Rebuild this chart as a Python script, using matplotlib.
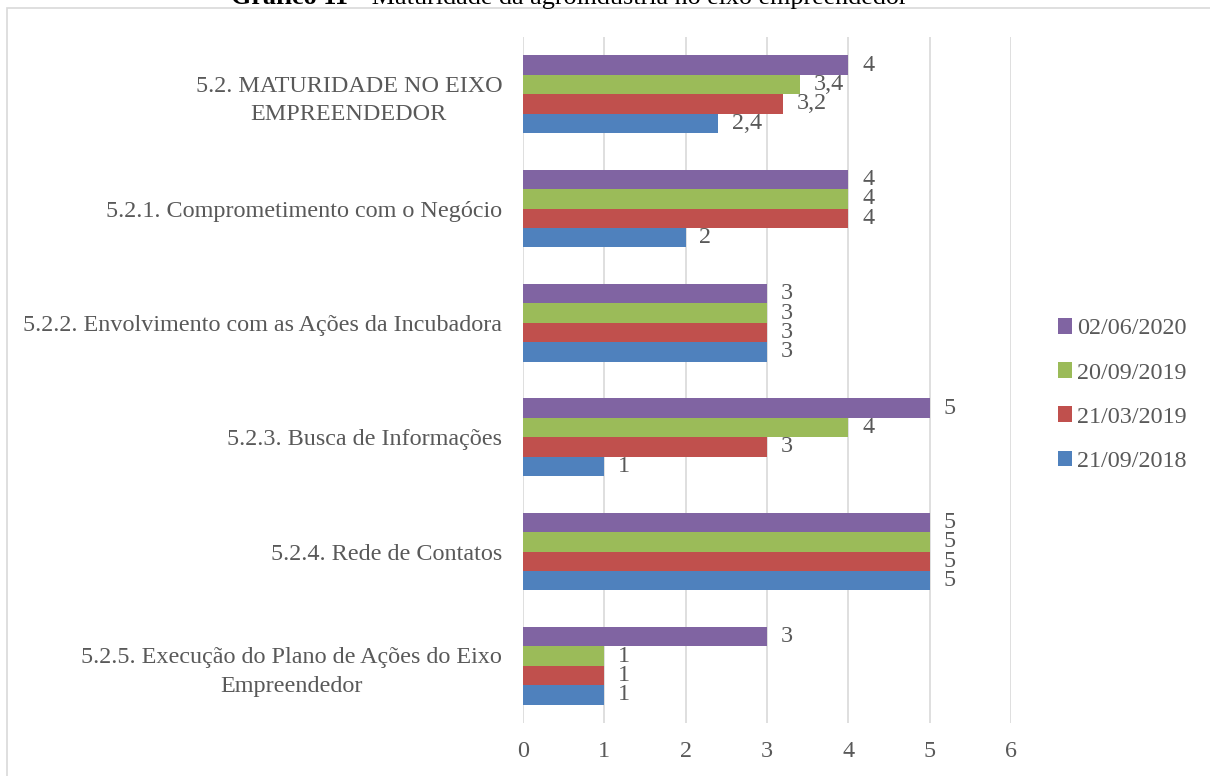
import numpy as np
import matplotlib.pyplot as plt
from matplotlib.patches import Rectangle

plt.rcParams['font.family'] = ['Liberation Serif', 'DejaVu Serif']

categorias = ["5.2. MATURIDADE NO EIXO\nEMPREENDEDOR",
              "5.2.1. Comprometimento com o Negócio",
              "5.2.2. Envolvimento com as Ações da Incubadora",
              "5.2.3. Busca de Informações",
              "5.2.4. Rede de Contatos",
              "5.2.5. Execução do Plano de Ações do Eixo\nEmpreendedor"]
datas = ["21/09/2018", "21/03/2019", "20/09/2019", "02/06/2020"]
v_2018_09 = [2.4, 2, 3, 1, 5, 1]
v_2019_03 = [3.2, 4, 3, 3, 5, 1]
v_2019_09 = [3.4, 4, 3, 4, 5, 1]
v_2020_06 = [4, 4, 3, 5, 5, 3]
series = [v_2018_09, v_2019_03, v_2019_09, v_2020_06]
cores = ["#4F81BD", "#C0504D", "#9BBB59", "#8064A2"]

cinza = "#595959"
fs = 17.4

fig = plt.figure(figsize=(12.1, 7.76), dpi=100)
ax = fig.add_axes([523/1210, 1-723/776, (1011-523)/1210, (723-37)/776])

# moldura do grafico
fig.patches.append(Rectangle((7/1210, -0.2), 1.2, 1-8/776+0.2, transform=fig.transFigure,
                             fill=False, edgecolor="#D9D9D9", linewidth=1.2))

n = len(categorias)
y = np.arange(n)[::-1].astype(float)  # primeira categoria no topo
h = 0.17
for i, (vals, cor, data) in enumerate(zip(series, cores, datas)):
    pos = y - 1.5*h + i*h
    ax.barh(pos, vals, height=h, color=cor, label=data)
    for p, v in zip(pos, vals):
        ax.text(v + 0.17, p, ("%g" % v).replace(".", ","), va="center", ha="left",
                fontsize=fs, color=cinza)

ax.set_xlim(0, 6)
ax.set_ylim(-0.5, n - 0.5)
ax.set_xticks(range(7))
ax.set_yticks(y)
ax.set_yticklabels(categorias, multialignment="center", linespacing=1.45)
ax.tick_params(axis="both", length=0, labelsize=fs, colors=cinza)
ax.tick_params(axis="y", pad=15)
ax.tick_params(axis="x", pad=13)
ax.grid(axis="x", color="#D9D9D9", linewidth=1.2)
ax.set_axisbelow(True)
for s in ax.spines.values():
    s.set_visible(False)

handles, labels = ax.get_legend_handles_labels()
fig.legend(handles[::-1], labels[::-1], loc="center left", bbox_to_anchor=(1036/1210, 1-395/776),
           frameon=False, fontsize=fs, labelcolor=cinza, handlelength=0.6, handleheight=0.6,
           handletextpad=0.2, labelspacing=0.95)

# titulo (parcialmente cortado no topo)
fig.text(348/1210, 1-4/776, "Gráfico 11", ha="right", va="baseline", fontsize=18.8, fontweight="bold")
fig.text(352/1210, 1-4/776, "– Maturidade da agroindústria no eixo empreendedor",
         ha="left", va="baseline", fontsize=18.8)

fig.savefig("out.png", dpi=100)
